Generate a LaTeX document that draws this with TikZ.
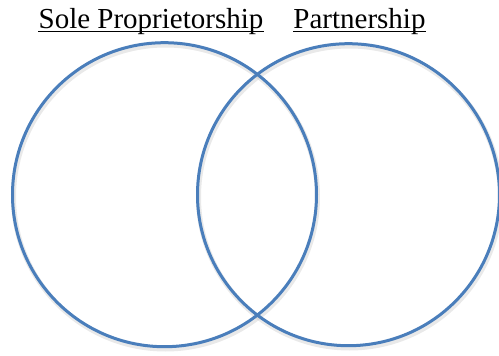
\documentclass[tikz,border=0pt]{standalone}
\usepackage{fontspec}
\setmainfont{Liberation Serif}
\begin{document}
\begin{tikzpicture}[x=1pt,y=-1pt,
  ring/.style={draw=ringblue, line width=3pt},
  ringshadow/.style={draw=black!25, line width=5pt, opacity=0.35},
  label/.style={font=\fontsize{29}{34}\selectfont, inner sep=0pt, anchor=base},
  uline/.style={draw=black, line width=1pt}]
\definecolor{ringblue}{HTML}{4A7EBB}
\useasboundingbox (0,0) rectangle (499,356);
% shadows
\draw[ringshadow] (165.5,197) circle (152);
\draw[ringshadow] (349.5,197) circle (151);
% circles
\draw[ring] (164.5,194.7) circle (152);
\node[circle, minimum size=304pt, inner sep=0pt] (solecirc) at (164.5,194.7) {};
\draw[ring] (348.5,194.7) circle (151);
\node[circle, minimum size=302pt, inner sep=0pt] (partcirc) at (348.5,194.7) {};
% labels
\node[label] (sole) at (151,28) {Sole Proprietorship};
\node[label] (part) at (359.5,28) {Partnership};
\draw[uline] ([yshift=-3.5pt]sole.base west) -- ([yshift=-3.5pt]sole.base east);
\draw[uline] ([yshift=-3.5pt]part.base west) -- ([yshift=-3.5pt]part.base east);
\end{tikzpicture}
\end{document}
